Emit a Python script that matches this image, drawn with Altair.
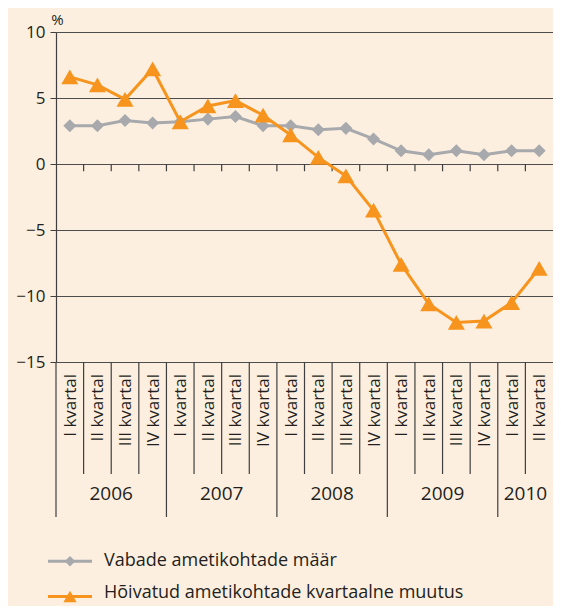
import altair as alt
import pandas as pd

# ---- data ----
quarters = ["I kvartal", "II kvartal", "III kvartal", "IV kvartal"] * 4 + ["I kvartal", "II kvartal"]
years = ["2006", "2007", "2008", "2009", "2010"]
quarters_per_year = [4, 4, 4, 4, 2]
vacancy_rate = [2.9, 2.9, 3.3, 3.1, 3.2, 3.4, 3.6, 2.9, 2.9, 2.6, 2.7, 1.9,
                1.0, 0.7, 1.0, 0.7, 1.0, 1.0]
employment_change = [6.6, 6.0, 4.9, 7.2, 3.2, 4.4, 4.8, 3.7, 2.2, 0.5, -0.9, -3.5,
                     -7.6, -10.6, -12.0, -11.9, -10.5, -7.9]
y_ticks = [-15, -10, -5, 0, 5, 10]
series_names = ["Vabade ametikohtade määr", "Hõivatud ametikohtade kvartaalne muutus"]

# ---- styling ----
BG = "#fdefe0"
GREY = "#a7a9ac"
ORANGE = "#f7941d"
INK = "#231f20"
LINE = "#3f3f3f"
FONT = "Open Sans"

n = len(quarters)
df = pd.DataFrame({
    "pos": [i + 0.5 for i in range(n)],
    "quarter": quarters,
    "vac": vacancy_rate,
    "emp": employment_change,
})

year_starts = []
s = 0
for q in quarters_per_year:
    year_starts.append(s)
    s += q
year_df = pd.DataFrame({
    "year": years,
    "center": [st + q / 2 for st, q in zip(year_starts, quarters_per_year)],
    "start": year_starts,
})
inner_bounds = pd.DataFrame({"pos": list(range(1, n))})
quarter_bounds = pd.DataFrame({"pos": [k for k in range(0, n) if k not in year_starts]})

xscale = alt.Scale(domain=[0, n], nice=False, zero=False)
yscale = alt.Scale(domain=[-15, 10], nice=False, zero=False)

X = lambda f: alt.X(f, scale=xscale, axis=None)

# line layers (first carries the y axis)
grey_line = alt.Chart(df).mark_line(color=GREY, strokeWidth=3).encode(
    x=X("pos:Q"),
    y=alt.Y("vac:Q", scale=yscale, axis=alt.Axis(
        values=y_ticks, grid=True, gridColor="#4d4d4d", gridWidth=1,
        domainColor=LINE, domainWidth=1.2, tickColor=LINE, tickSize=6,
        labelFont=FONT, labelFontSize=17, labelColor=INK, labelPadding=5,
        title="%", titleAngle=0, titleX=1, titleY=-13, titleAlign="center",
        titleBaseline="middle", titleFont=FONT, titleFontSize=15,
        titleFontWeight="normal", titleColor=INK)),
)
grey_pts = alt.Chart(df).mark_point(shape="diamond", filled=True, opacity=1,
                                    color=GREY, size=170).encode(
    x=X("pos:Q"), y=alt.Y("vac:Q", scale=yscale))
orange_line = alt.Chart(df).mark_line(color=ORANGE, strokeWidth=3).encode(
    x=X("pos:Q"), y=alt.Y("emp:Q", scale=yscale))
orange_pts = alt.Chart(df).mark_point(shape="triangle-up", filled=True, opacity=1,
                                      color=ORANGE, size=290).encode(
    x=X("pos:Q"), y=alt.Y("emp:Q", scale=yscale))

# small ticks below zero line
zero_ticks = alt.Chart(inner_bounds).mark_rule(color=LINE, strokeWidth=1.2).encode(
    x=X("pos:Q"), y=alt.Y(datum=0, scale=yscale), y2=alt.Y2(datum=-0.55))

# category separators below the plot
q_sep = alt.Chart(quarter_bounds).mark_rule(color=LINE, strokeWidth=1.2).encode(
    x=X("pos:Q"), y=alt.value(330), y2=alt.value(442))
y_sep = alt.Chart(year_df).mark_rule(color=LINE, strokeWidth=1.2).encode(
    x=X("start:Q"), y=alt.value(330), y2=alt.value(485))

q_labels = alt.Chart(df).mark_text(angle=270, align="right", baseline="middle",
                                   font=FONT, fontSize=17, color=INK, dy=1).encode(
    x=X("pos:Q"), y=alt.value(342), text="quarter:N")
y_labels = alt.Chart(year_df).mark_text(align="center", baseline="middle",
                                        font=FONT, fontSize=19, color=INK).encode(
    x=X("center:Q"), y=alt.value(462), text="year:N")

# manual legend
leg_df = pd.DataFrame({"name": series_names})
def legend_row(idx, color, shape, size, ly, ty):
    d = leg_df.iloc[[idx]]
    rule = alt.Chart(d).mark_rule(color=color, strokeWidth=3).encode(
        x=alt.value(-8), x2=alt.value(36), y=alt.value(ly))
    pt = alt.Chart(d).mark_point(shape=shape, filled=True, opacity=1, color=color,
                                 size=size).encode(x=alt.value(14), y=alt.value(ly))
    txt = alt.Chart(d).mark_text(align="left", baseline="middle", font=FONT,
                                 fontSize=18, color=INK).encode(
        x=alt.value(48), y=alt.value(ty), text="name:N")
    return [rule, pt, txt]

legend_layers = legend_row(0, GREY, "diamond", 110, 529.3, 529) + \
    legend_row(1, ORANGE, "triangle-up", 175, 564.5, 561)

chart = alt.layer(
    grey_line, zero_ticks, q_sep, y_sep, q_labels, y_labels,
    grey_pts, orange_line, orange_pts, *legend_layers
).properties(
    width=497, height=330,
    autosize=alt.AutoSizeParams(type="none"),
    padding={"left": 48, "top": 24, "right": 0, "bottom": 244},
).configure(background=BG, font=FONT).configure_view(stroke=None)

chart.save("out.html", embed_options={"renderer": "svg", "actions": False})
